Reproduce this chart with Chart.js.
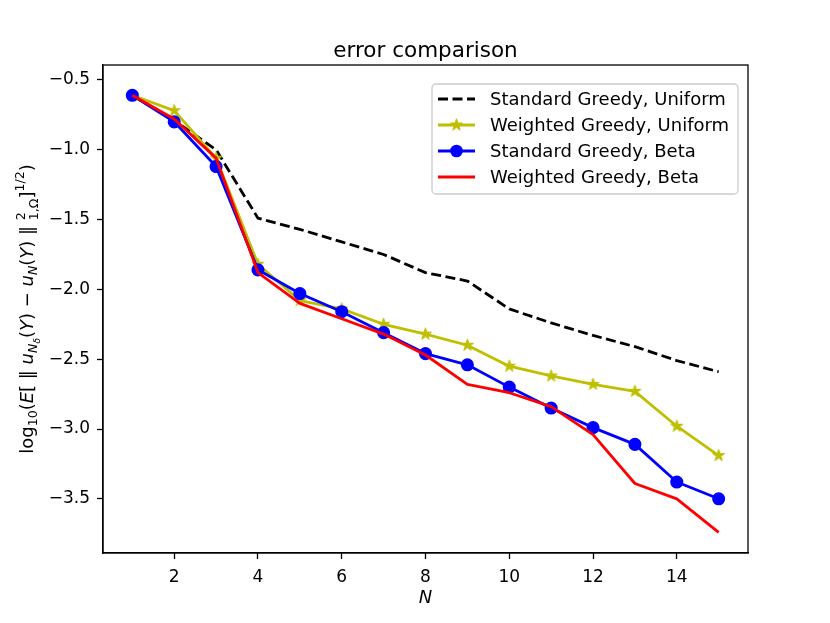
<!DOCTYPE html>
<html>
<head>
<meta charset="utf-8">
<script src="https://cdn.jsdelivr.net/npm/chart.js@4.4.0/dist/chart.umd.min.js"></script>
<style>
    body { margin: 0; background: #fff; }
    canvas { display: block; }
</style>
</head>
<body>
<canvas id="grafico" width="830" height="623"></canvas>
<script>
// Datos
const valoresN = [1, 2, 3, 4, 5, 6, 7, 8, 9, 10, 11, 12, 13, 14, 15];
const ticksX = [2, 4, 6, 8, 10, 12, 14];
const ticksY = [-3.5, -3.0, -2.5, -2.0, -1.5, -1.0, -0.5];
const etiquetas = ['Standard Greedy, Uniform', 'Weighted Greedy, Uniform', 'Standard Greedy, Beta', 'Weighted Greedy, Beta'];

const estandarUniforme = [-0.61, -0.79, -1.00, -1.49, -1.57, -1.66, -1.75, -1.88, -1.94, -2.14, -2.24, -2.33, -2.41, -2.51, -2.59];
const pesadoUniforme = [-0.61, -0.72, -1.06, -1.82, -2.08, -2.14, -2.25, -2.32, -2.40, -2.55, -2.62, -2.68, -2.73, -2.98, -3.19];
const estandarBeta = [-0.61, -0.80, -1.12, -1.86, -2.03, -2.16, -2.31, -2.46, -2.54, -2.70, -2.85, -2.99, -3.11, -3.38, -3.50];
const pesadoBeta = [-0.61, -0.78, -1.06, -1.88, -2.10, -2.21, -2.32, -2.47, -2.68, -2.74, -2.84, -3.04, -3.39, -3.50, -3.74];

const FUENTE = 'DejaVu Sans';

function aPuntos(serie) {
    return valoresN.map((n, i) => ({ x: n, y: serie[i] }));
}

// Marcador de estrella de 5 puntas (como '*' de matplotlib)
function crearEstrella(color, r) {
    const c = document.createElement('canvas');
    const s = Math.ceil(r * 2 + 2);
    c.width = s;
    c.height = s;
    const g = c.getContext('2d');
    g.beginPath();
    for (let i = 0; i < 10; i++) {
        const rad = i % 2 === 0 ? r : r * 0.382;
        const ang = -Math.PI / 2 + i * Math.PI / 5;
        const px = s / 2 + rad * Math.cos(ang);
        const py = s / 2 + rad * Math.sin(ang);
        if (i === 0) g.moveTo(px, py); else g.lineTo(px, py);
    }
    g.closePath();
    g.fillStyle = color;
    g.fill();
    g.strokeStyle = color;
    g.lineWidth = 1;
    g.stroke();
    return c;
}

const estrella = crearEstrella('#bfbf00', 6.3);

// Texto del eje y con subindices y superindices
function dibujarEtiquetaY(ctx, x, yc) {
    const B = 18;
    const partes = [
        ['log', 'n', 1, 0], ['10', 'n', 0.7, -0.22], ['(', 'n', 1, 0], ['E', 'i', 1, 0],
        ['[ \u2016 ', 'n', 1, 0], ['u', 'i', 1, 0], ['N', 'i', 0.7, -0.22], ['\u03b4', 'i', 0.5, -0.4],
        ['(', 'n', 1, 0], ['Y', 'i', 1, 0], [') \u2212 ', 'n', 1, 0], ['u', 'i', 1, 0], ['N', 'i', 0.7, -0.22],
        ['(', 'n', 1, 0], ['Y', 'i', 1, 0], [') \u2016 ', 'n', 1, 0],
        ['2', 'n', 0.7, 0.45, 'apilar'], ['1,\u03a9', 'n', 0.7, -0.3],
        [']', 'n', 1, 0], ['1/2', 'n', 0.7, 0.5], [')', 'n', 1, 0]
    ];
    const fuente = p => (p[1] === 'i' ? 'oblique ' : '') + (B * p[2]) + 'px "' + FUENTE + '"';

    // medir ancho total
    let total = 0, pendiente = 0;
    partes.forEach(p => {
        ctx.font = fuente(p);
        const w = ctx.measureText(p[0]).width;
        if (p[4] === 'apilar') { pendiente = w; return; }
        total += Math.max(w, pendiente);
        pendiente = 0;
    });

    ctx.save();
    ctx.translate(x, yc);
    ctx.rotate(-Math.PI / 2);
    ctx.fillStyle = '#000';
    ctx.textAlign = 'left';
    ctx.textBaseline = 'alphabetic';
    let cx = -total / 2;
    pendiente = 0;
    partes.forEach(p => {
        ctx.font = fuente(p);
        const w = ctx.measureText(p[0]).width;
        ctx.fillText(p[0], cx, -p[3] * B);
        if (p[4] === 'apilar') { pendiente = w; return; }
        cx += Math.max(w, pendiente);
        pendiente = 0;
    });
    ctx.restore();
}

const decoraciones = {
    id: 'decoraciones',
    afterDraw(chart) {
        const { ctx, chartArea: a } = chart;
        const centroX = (a.left + a.right) / 2;

        // marco completo
        ctx.save();
        ctx.strokeStyle = '#000';
        ctx.lineWidth = 1.3;
        ctx.strokeRect(a.left, a.top, a.right - a.left, a.bottom - a.top);

        // titulo y etiqueta x
        ctx.fillStyle = '#000';
        ctx.textAlign = 'center';
        ctx.textBaseline = 'middle';
        ctx.font = '21.5px "' + FUENTE + '"';
        ctx.fillText('error comparison', centroX, 51);
        ctx.font = 'oblique 18px "' + FUENTE + '"';
        ctx.fillText('N', centroX, 598);

        dibujarEtiquetaY(ctx, 33, (a.top + a.bottom) / 2);

        // leyenda
        const lx = 432, ly = 84, lw = 306, lh = 110;
        ctx.beginPath();
        ctx.roundRect(lx, ly, lw, lh, 4);
        ctx.fillStyle = 'rgba(255,255,255,0.8)';
        ctx.fill();
        ctx.strokeStyle = '#cccccc';
        ctx.lineWidth = 1.3;
        ctx.stroke();

        chart.data.datasets.forEach((ds, i) => {
            const y = 99 + i * 26;
            ctx.beginPath();
            ctx.setLineDash(ds.borderDash || []);
            ctx.strokeStyle = ds.borderColor;
            ctx.lineWidth = ds.borderWidth;
            ctx.moveTo(438, y);
            ctx.lineTo(475, y);
            ctx.stroke();
            ctx.setLineDash([]);
            if (ds.pointStyle === estrella) {
                ctx.drawImage(estrella, 456.5 - estrella.width / 2, y - estrella.height / 2);
            } else if (ds.pointRadius > 0) {
                ctx.beginPath();
                ctx.arc(456.5, y, 6.3, 0, Math.PI * 2);
                ctx.fillStyle = ds.pointBackgroundColor;
                ctx.fill();
            }
            ctx.fillStyle = '#000';
            ctx.textAlign = 'left';
            ctx.textBaseline = 'middle';
            ctx.font = '18px "' + FUENTE + '"';
            ctx.fillText(etiquetas[i], 490, y + 1);
        });
        ctx.restore();
    }
};

const ejeComun = {
    type: 'linear',
    grid: { display: true, drawOnChartArea: false, drawTicks: true, tickLength: 6, tickColor: '#000', tickWidth: 1.3 },
    border: { display: true, color: '#000', width: 1.3 },
    ticks: {
        color: '#000',
        font: { family: FUENTE, size: 17 },
        autoSkip: false,
        maxRotation: 0,
        includeBounds: false
    }
};

new Chart(document.getElementById('grafico').getContext('2d'), {
    type: 'line',
    data: {
        datasets: [
            {
                label: etiquetas[0], data: aPuntos(estandarUniforme),
                borderColor: '#000000', borderWidth: 2.8, borderDash: [10, 4.5],
                pointRadius: 0, order: 4
            },
            {
                label: etiquetas[1], data: aPuntos(pesadoUniforme),
                borderColor: '#bfbf00', borderWidth: 2.8,
                pointStyle: estrella, pointRadius: 6, order: 3
            },
            {
                label: etiquetas[2], data: aPuntos(estandarBeta),
                borderColor: '#0000ff', borderWidth: 2.8,
                pointRadius: 5.8, pointBorderWidth: 1.5,
                pointBackgroundColor: '#0000ff', pointBorderColor: '#0000ff', order: 2
            },
            {
                label: etiquetas[3], data: aPuntos(pesadoBeta),
                borderColor: '#ff0000', borderWidth: 2.8,
                pointRadius: 0, order: 1
            }
        ]
    },
    options: {
        responsive: false,
        animation: false,
        devicePixelRatio: 1,
        layout: { padding: { left: 0, right: 82, top: 65, bottom: 0 } },
        elements: { line: { tension: 0, borderJoinStyle: 'round', fill: false } },
        plugins: {
            legend: { display: false },
            title: { display: false },
            tooltip: { enabled: false }
        },
        scales: {
            x: {
                ...ejeComun,
                position: 'bottom',
                min: 0.3,
                max: 15.7,
                afterBuildTicks: s => { s.ticks = ticksX.map(v => ({ value: v })); },
                afterFit: s => { s.height = 70; },
                ticks: { ...ejeComun.ticks, padding: 8, callback: v => String(v) }
            },
            y: {
                ...ejeComun,
                position: 'left',
                min: -3.888,
                max: -0.393,
                afterBuildTicks: s => { s.ticks = ticksY.map(v => ({ value: v })); },
                afterFit: s => { s.width = 103; },
                ticks: { ...ejeComun.ticks, padding: 7, callback: v => v.toFixed(1).replace('-', '\u2212') }
            }
        }
    },
    plugins: [decoraciones]
});
</script>
</body>
</html>
